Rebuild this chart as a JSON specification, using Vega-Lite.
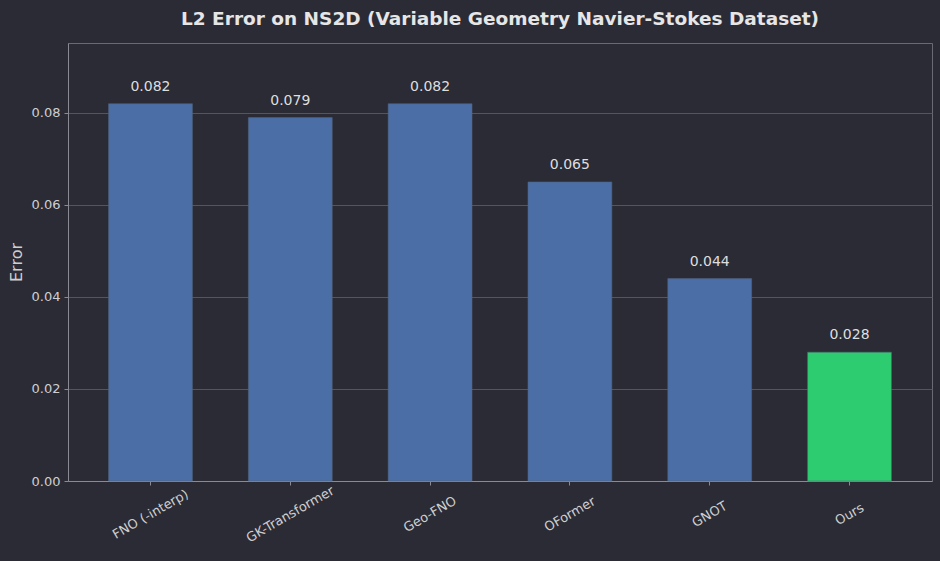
{
  "$schema": "https://vega.github.io/schema/vega-lite/v6.json",
  "width": 864,
  "height": 438,
  "autosize": {"type": "none"},
  "padding": {"left": 68, "top": 43, "right": 8, "bottom": 80},
  "background": "#2b2b36",
  "title": {
    "text": "L2 Error on NS2D (Variable Geometry Navier-Stokes Dataset)",
    "font": "DejaVu Sans",
    "fontSize": 18.5,
    "fontWeight": "bold",
    "color": "#e6e6e6",
    "anchor": "middle",
    "offset": 15
  },
  "config": {
    "view": {"stroke": "#6a6a75", "strokeWidth": 1},
    "font": "DejaVu Sans"
  },
  "data": {
    "values": [
      {"model": "FNO (-interp)", "error": 0.082, "ours": "no"},
      {"model": "GK-Transformer", "error": 0.079, "ours": "no"},
      {"model": "Geo-FNO", "error": 0.082, "ours": "no"},
      {"model": "OFormer", "error": 0.065, "ours": "no"},
      {"model": "GNOT", "error": 0.044, "ours": "no"},
      {"model": "Ours", "error": 0.028, "ours": "yes"}
    ]
  },
  "encoding": {
    "x": {
      "field": "model",
      "type": "nominal",
      "sort": null,
      "scale": {"paddingInner": 0.4, "paddingOuter": 0.29},
      "axis": {
        "title": null,
        "labelAngle": -30,
        "labelAlign": "center",
        "labelBaseline": "middle",
        "labelFontSize": 13,
        "labelColor": "#cfcfcf",
        "labelPadding": 29,
        "domainColor": "#8a8a95",
        "tickColor": "#8a8a95",
        "tickSize": 4,
        "grid": false
      }
    },
    "y": {
      "field": "error",
      "type": "quantitative",
      "scale": {"domain": [0, 0.0952], "nice": false},
      "axis": {
        "title": "Error",
        "titleFontSize": 16,
        "titleFontWeight": "normal",
        "titleColor": "#cfcfcf",
        "titlePadding": 7,
        "values": [0, 0.02, 0.04, 0.06, 0.08],
        "format": ".2f",
        "labelFontSize": 13,
        "labelColor": "#cfcfcf",
        "labelPadding": 4,
        "domainColor": "#8a8a95",
        "tickColor": "#8a8a95",
        "tickSize": 4,
        "gridColor": "#55555f",
        "gridWidth": 1
      }
    }
  },
  "layer": [
    {
      "mark": {"type": "bar", "stroke": "#55657a", "strokeWidth": 0.5},
      "encoding": {
        "color": {
          "field": "ours",
          "type": "nominal",
          "scale": {"domain": ["no", "yes"], "range": ["#4a6ea5", "#2ecc71"]},
          "legend": null
        }
      }
    },
    {
      "mark": {"type": "text", "dy": -17, "fontSize": 14, "color": "#dedede"},
      "encoding": {
        "text": {"field": "error", "type": "quantitative", "format": ".3f"}
      }
    }
  ]
}
